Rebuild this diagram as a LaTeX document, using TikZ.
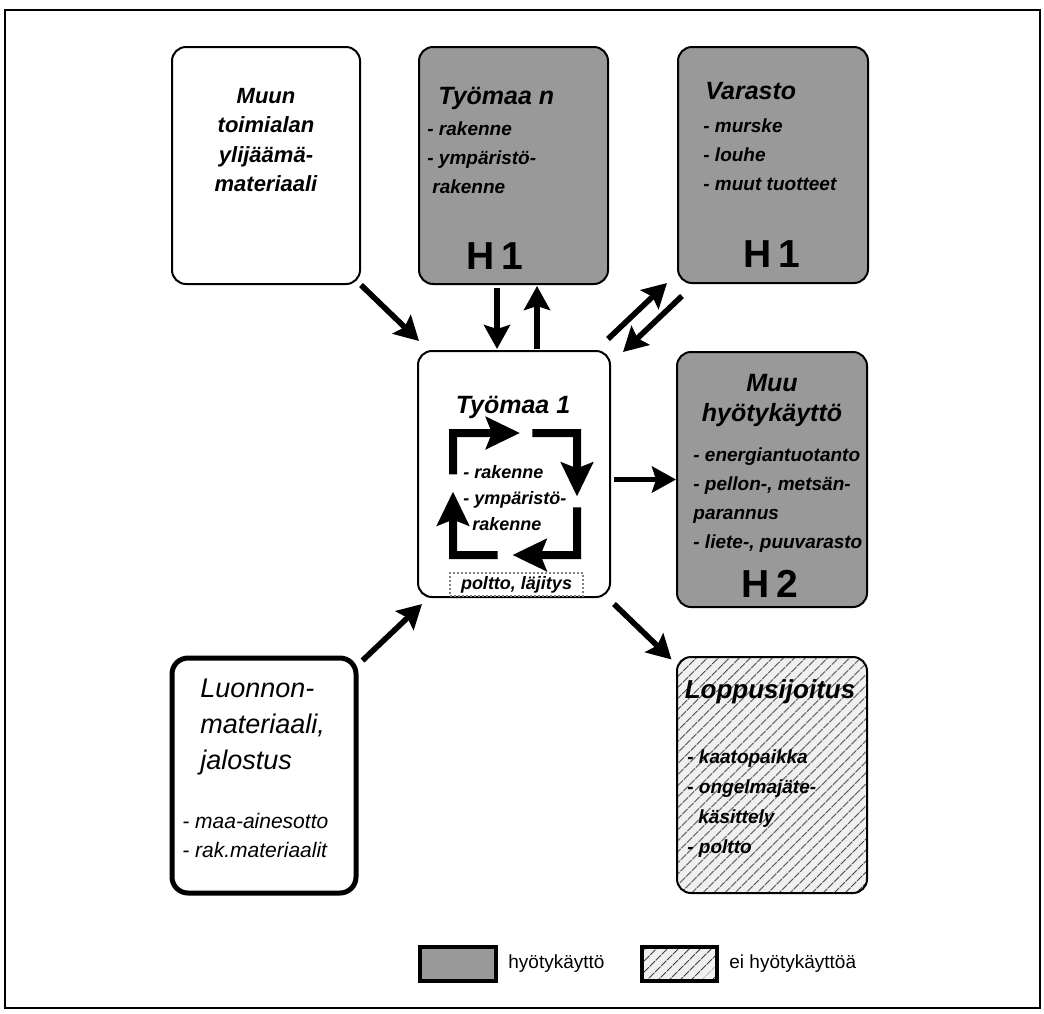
\documentclass[tikz,border=0pt]{standalone}
\usepackage{fontspec}
\setmainfont{Liberation Sans}
\usetikzlibrary{arrows.meta,positioning,calc,patterns.meta}

\begin{document}
\begin{tikzpicture}[
    x=0.5pt, y=-0.5pt,
    box/.style={draw, line width=1pt, rounded corners=7pt},
    useful/.style={box, fill=black!40},
    hatch/.style={preaction={fill=gray!12}, pattern={Lines[angle=45,distance=4pt,line width=0.5pt]}, pattern color=black!75},
    nouse/.style={box, hatch},
    natural/.style={draw, line width=2.5pt, rounded corners=8pt},
    head/.style={inner sep=0pt, font=\fontsize{12.5}{15}\selectfont\bfseries\itshape},
    items/.style={inner sep=0pt, align=left, font=\fontsize{9.5}{14.5}\selectfont\bfseries\itshape},
    hmark/.style={inner sep=0pt, anchor=base, font=\fontsize{19.5}{20}\selectfont\bfseries},
    flow/.style={-{Stealth[length=12pt,width=13pt,inset=2pt]}, line width=2.8pt},
    cyc/.style={-{Stealth[length=17pt,width=16pt,inset=3pt]}, line width=4pt},
    legtxt/.style={inner sep=0pt, font=\fontsize{9.5}{11}\selectfont}
]
    \useasboundingbox (0,0) rectangle (1044,1013);
    \draw[line width=1pt] (5,10) rectangle (1040,1008);

    % Boxes
    \node[box, minimum width=94pt, minimum height=118.5pt] (muun) at (266,165.5) {};
    \node[useful, minimum width=94.5pt, minimum height=118.5pt] (tyon) at (513.5,165.5) {};
    \node[useful, minimum width=95pt, minimum height=118pt] (varasto) at (773,165) {};
    \node[box, minimum width=96pt, minimum height=123pt] (tyo1) at (514,474) {};
    \node[useful, minimum width=95pt, minimum height=127.5pt] (muuh) at (772,479.5) {};
    \node[nouse, minimum width=95pt, minimum height=118pt] (lopp) at (772,775) {};
    \node[natural, minimum width=92pt, minimum height=117.5pt] (luonnon) at (264,775.5) {};

    % Texts
    \node[head, anchor=north, align=center, font=\fontsize{11}{14.7}\selectfont\bfseries\itshape] (muuntxt) at (266,88) {Muun\\toimialan\\ylijäämä-\\materiaali};

    \node[head, anchor=north west] (tyontitle) at (438,87) {Työmaa n};
    \node[items, anchor=north west] (tyonlist) at (427,121) {- rakenne\\- ympäristö-\\\hspace{2.5pt}rakenne};
    \node[hmark] (tyonh) at (495,269) {H\,1};

    \node[head, anchor=north west] (vartitle) at (705,82) {Varasto};
    \node[items, anchor=north west] (varlist) at (703,118) {- murske\\- louhe\\- muut tuotteet};
    \node[hmark] (varh) at (772,267) {H\,1};

    \node[head, anchor=north, align=center] (muuhtitle) at (772,374) {Muu\\hyötykäyttö};
    \node[items, anchor=north west] (muuhlist) at (693,447) {- energiantuotanto\\- pellon-, metsän-\\parannus\\- liete-, puuvarasto};
    \node[hmark] (muuhh) at (770,597) {H\,2};

    \node[head, anchor=north, font=\fontsize{13}{15}\selectfont\bfseries\itshape] (lopptitle) at (770,679) {Loppusijoitus};
    \node[items, anchor=north west, font=\fontsize{9.5}{15}\selectfont\bfseries\itshape] (lopplist) at (687,749) {- kaatopaikka\\- ongelmajäte-\\\hspace{5.5pt}käsittely\\- poltto};

    \node[inner sep=0pt, anchor=north west, align=left, font=\fontsize{13.5}{18}\selectfont\itshape] (luontitle) at (200,679) {Luonnon-\\materiaali,\\jalostus};
    \node[inner sep=0pt, anchor=north west, align=left, font=\fontsize{10.5}{14.5}\selectfont\itshape] (luonlist) at (182,813) {- maa-ainesotto\\- rak.materiaalit};

    \node[head, anchor=north] (tyo1title) at (513,396) {Työmaa 1};
    \node[items, anchor=north west, font=\fontsize{9}{13}\selectfont\bfseries\itshape] (tyo1list) at (463,465) {- rakenne\\- ympäristö-\\\hspace{4.5pt}rakenne};
    \node[draw=gray, densely dotted, line width=1pt, minimum width=66.5pt, minimum height=11.5pt, inner sep=0pt, font=\fontsize{9}{10}\selectfont\bfseries\itshape] (poltto) at (516.5,584.5) {poltto, läjitys};

    % Cycle inside Tyomaa 1
    \coordinate (ca) at (453,433);
    \coordinate (cb) at (577,433);
    \coordinate (cc) at (577,555);
    \coordinate (cd) at (453,555);
    \draw[cyc] ($(cd)!0.66!(ca)$) -- (ca) -- ($(ca)!0.54!(cb)$);
    \draw[cyc] ($(ca)!0.64!(cb)$) -- (cb) -- ($(cb)!0.52!(cc)$);
    \draw[cyc] ($(cb)!0.61!(cc)$) -- (cc) -- ($(cc)!0.52!(cd)$);
    \draw[cyc] ($(cc)!0.64!(cd)$) -- (cd) -- ($(cd)!0.52!(ca)$);

    % Links
    \draw[flow] (muun.south east) -- ($(tyo1.north west)+(2,-9)$);
    \draw[flow] ($(tyon.south)+(-16.5,3)$) -- ($(tyo1.north)+(-17,-1)$);
    \draw[flow] ($(tyo1.north)+(23,-1)$) -- ($(tyon.south)+(23.5,1)$);
    \draw[flow] ($(tyo1.north east)+(-3,-11)$) -- ($(varasto.south west)+(-10,-1)$);
    \draw[flow] ($(varasto.south west)+(5,12)$) -- ($(tyo1.north east)+(12,2)$);
    \draw[flow, shorten <=1.5pt] (tyo1.east |- muuh.west) -- (muuh.west);
    \draw[flow] ($(tyo1.south east)+(3,6)$) -- ($(lopp.north west)+(-5,3)$);
    \draw[flow] ($(luonnon.north east)+(4,5)$) -- ($(tyo1.south west)+(5,6)$);

    % Legend
    \node[draw, line width=2pt, fill=black!40, minimum width=38pt, minimum height=17pt] (leg1) at (458,964) {};
    \node[legtxt, right=5pt of leg1] (leg1txt) {hyötykäyttö};
    \node[draw, line width=2pt, hatch, minimum width=37.5pt, minimum height=17pt] (leg2) at (679.5,964) {};
    \node[legtxt, right=5pt of leg2] (leg2txt) {ei hyötykäyttöä};
\end{tikzpicture}
\end{document}
